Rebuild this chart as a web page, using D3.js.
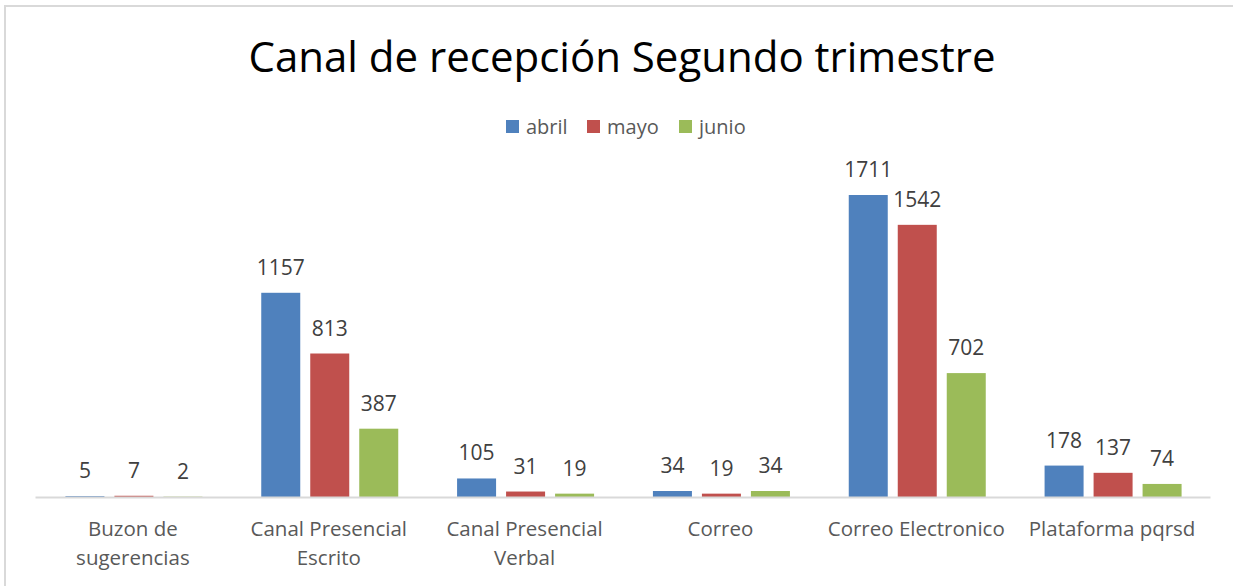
<!DOCTYPE html>
<html><head><meta charset="utf-8">
<script src="https://cdn.jsdelivr.net/npm/d3@7"></script>
<style>
html,body{margin:0;padding:0;background:#fff;}
svg{display:block;}
</style></head>
<body>
<svg id="chart" width="1233" height="586"></svg>
<script>
const categories = [["Buzon de","sugerencias"],["Canal Presencial","Escrito"],["Canal Presencial","Verbal"],["Correo"],["Correo Electronico"],["Plataforma pqrsd"]];
const seriesNames = ["abril","mayo","junio"];
const abril = [5,1157,105,34,1711,178];
const mayo  = [7,813,31,19,1542,137];
const junio = [2,387,19,34,702,74];
const colors = ["#4F81BD","#C0504D","#9BBB59"];

const values = [abril, mayo, junio];
const font = "'Open Sans', sans-serif";
const svg = d3.select("#chart");

// frame
svg.append("rect").attr("x",5).attr("y",6).attr("width",1240).attr("height",600)
  .attr("fill","none").attr("stroke","#d9d9d9").attr("stroke-width",2);

const x0 = d3.scaleBand().domain(d3.range(categories.length)).range([35,1210]).paddingInner(0).paddingOuter(0);
const x1 = d3.scaleBand().domain(d3.range(seriesNames.length)).range([0,137]).paddingInner(10/49).paddingOuter(0);
const y = d3.scaleLinear().domain([0,2000]).range([497,144]);

// title
svg.append("text").attr("x",622).attr("y",72).attr("text-anchor","middle")
  .attr("font-family",font).attr("font-size",42).attr("fill","#000")
  .text("Canal de recepción Segundo trimestre");

// legend
const legX = [506,587,679];
seriesNames.forEach((s,i)=>{
  svg.append("rect").attr("x",legX[i]).attr("y",120).attr("width",13).attr("height",13).attr("fill",colors[i]);
  svg.append("text").attr("x",legX[i]+20).attr("y",134).attr("font-family",font).attr("font-size",20)
    .attr("fill","#595959").text(s);
});

// bars
const g = svg.append("g");
categories.forEach((c,ci)=>{
  const cx = x0(ci) + x0.bandwidth()/2 - 137/2 + 1;
  values.forEach((arr,si)=>{
    const v = arr[ci];
    const bx = cx + x1(si);
    g.append("rect").attr("x",bx).attr("y",y(v)).attr("width",x1.bandwidth())
      .attr("height",y(0)-y(v)).attr("fill",colors[si]);
    g.append("text").attr("x",bx + x1.bandwidth()/2).attr("y",y(v)-18)
      .attr("text-anchor","middle").attr("font-family",font).attr("font-size",21)
      .attr("fill","#404040").text(v);
  });
});

// axis
const axis = d3.axisBottom(x0).tickSize(0).tickFormat("");
const ag = svg.append("g").attr("transform","translate(0,497)").call(axis);
ag.select(".domain").attr("stroke","#d9d9d9").attr("stroke-width",2);

categories.forEach((c,ci)=>{
  const t = svg.append("text").attr("x",x0(ci)+x0.bandwidth()/2).attr("y",536)
    .attr("text-anchor","middle").attr("font-family",font).attr("font-size",20.5).attr("fill","#595959");
  c.forEach((line,li)=>{
    t.append("tspan").attr("x",x0(ci)+x0.bandwidth()/2).attr("y",536+li*29).text(line);
  });
});
</script>
</body></html>
